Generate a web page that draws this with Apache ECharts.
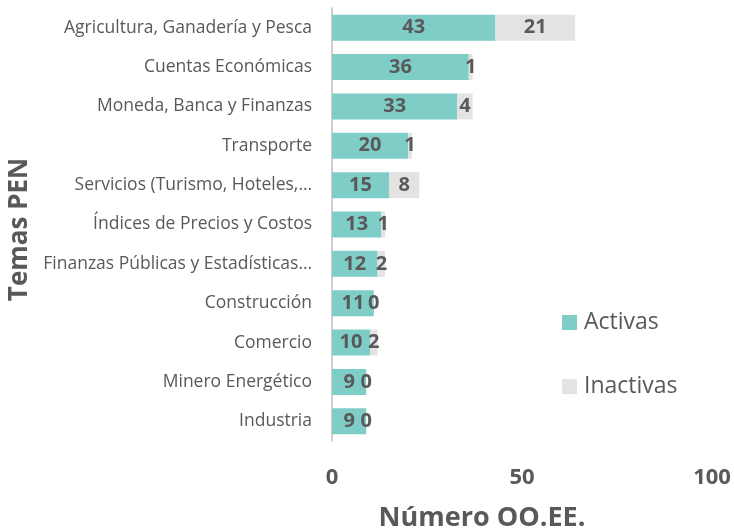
<!DOCTYPE html>
<html>
<head>
<meta charset="utf-8">
<script src="https://cdn.jsdelivr.net/npm/echarts@6/dist/echarts.min.js"></script>
<style>
  html, body { margin: 0; padding: 0; background: #fff; }
  #chart { width: 734px; height: 529px; }
</style>
</head>
<body>
<div id="chart"></div>
<script>
// temas, de arriba hacia abajo
const temas = [
  'Agricultura, Ganadería y Pesca',
  'Cuentas Económicas',
  'Moneda, Banca y Finanzas',
  'Transporte',
  'Servicios (Turismo, Hoteles,…',
  'Índices de Precios y Costos',
  'Finanzas Públicas y Estadísticas…',
  'Construcción',
  'Comercio',
  'Minero Energético',
  'Industria'
]
const activas = [43, 36, 33, 20, 15, 13, 12, 11, 10, 9, 9]
const inactivas = [21, 1, 4, 1, 8, 1, 2, 0, 2, 0, 0]
const xTicks = [0, 50, 100]

const FONT = '"Open Sans", "Noto Sans", sans-serif'
const GRIS = '#595959'

let chart = echarts.init(document.getElementById('chart'))

let labelStyle = {
  show: true,
  position: 'inside',
  color: GRIS,
  fontFamily: FONT,
  fontWeight: 'bold',
  fontSize: 20
}

let option = {
  animation: false,
  grid: {
    left: 332,
    right: 22,
    top: 8,
    bottom: 88,
    containLabel: false,
    outerBoundsMode: 'none'
  },
  legend: {
    orient: 'vertical',
    left: 562,
    top: 311,
    padding: 0,
    itemWidth: 15,
    itemHeight: 15,
    itemGap: 41,
    icon: 'rect',
    textStyle: { color: GRIS, fontFamily: FONT, fontSize: 23, padding: [0, 0, 0, 2] },
    data: ['Activas', 'Inactivas']
  },
  xAxis: {
    type: 'value',
    min: xTicks[0],
    max: xTicks[xTicks.length - 1],
    interval: 50,
    name: 'Número OO.EE.',
    nameLocation: 'middle',
    nameGap: 64,
    nameTextStyle: {
      color: GRIS, fontFamily: FONT, fontWeight: 'bold', fontSize: 27,
      padding: [0, 80, 0, 0]
    },
    axisLine: { show: false },
    axisTick: { show: false },
    splitLine: { show: false },
    axisLabel: {
      color: GRIS, fontFamily: FONT, fontWeight: 'bold', fontSize: 22, margin: 26
    }
  },
  yAxis: {
    type: 'category',
    inverse: true,
    data: temas,
    name: 'Temas PEN',
    nameLocation: 'middle',
    nameGap: 293,
    nameRotate: 90,
    nameTextStyle: {
      color: GRIS, fontFamily: FONT, fontWeight: 'bold', fontSize: 26,
      padding: [0, 10, 0, 0]
    },
    axisLine: { show: true, lineStyle: { color: '#BFBFBF', width: 1.5 } },
    axisTick: { show: false },
    axisLabel: { color: GRIS, fontFamily: FONT, fontSize: 17.5, margin: 20 }
  },
  series: [
    {
      name: 'Activas',
      type: 'bar',
      stack: 'total',
      barCategoryGap: '34%',
      data: activas,
      itemStyle: { color: '#7ECDC7' },
      label: labelStyle
    },
    {
      name: 'Inactivas',
      type: 'bar',
      stack: 'total',
      data: inactivas,
      itemStyle: { color: '#E3E3E3' },
      label: labelStyle
    }
  ]
}

chart.setOption(option)
window.onresize = function () {
  chart.resize()
}
</script>
</body>
</html>
